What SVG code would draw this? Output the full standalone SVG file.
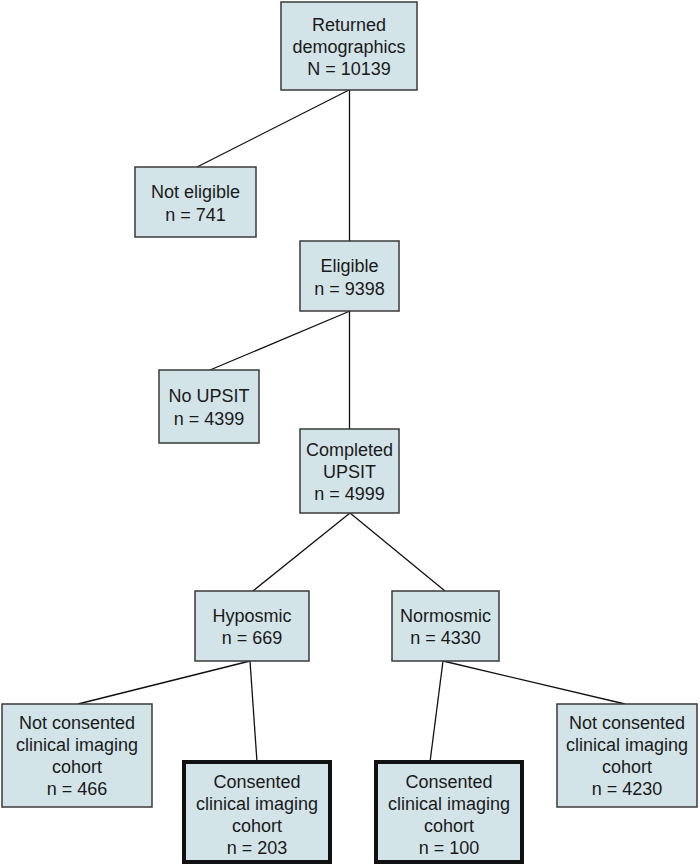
<svg xmlns="http://www.w3.org/2000/svg" width="700" height="867" viewBox="0 0 700 867">
<style>
.box{fill:#d3e4e8;stroke:#3a3a3a;stroke-width:1.5}
.thick{fill:#d3e4e8;stroke:#111;stroke-width:4}
.t{font-family:"Liberation Sans",Arial,sans-serif;font-size:18px;fill:#1a1a1a;text-anchor:middle}
.c{stroke:#111;stroke-width:1.3;fill:none}
</style>
<rect width="700" height="867" fill="#fff"/>
<g id="connectors">
<line class="c" x1="349" y1="90" x2="197" y2="167"/>
<line class="c" x1="349.5" y1="90" x2="349.5" y2="241"/>
<line class="c" x1="350" y1="311" x2="210" y2="370"/>
<line class="c" x1="349.5" y1="311" x2="349.5" y2="429"/>
<line class="c" x1="350" y1="513" x2="253" y2="591"/>
<line class="c" x1="350" y1="513" x2="445" y2="591"/>
<line class="c" x1="250" y1="661" x2="78" y2="704"/>
<line class="c" x1="250" y1="661" x2="257" y2="762"/>
<line class="c" x1="443" y1="661" x2="430" y2="762"/>
<line class="c" x1="443" y1="661" x2="625" y2="704"/>
</g>
<g id="n1"><rect class="box" x="281" y="2" width="136" height="88"/>
<text class="t"><tspan x="349" y="31">Returned</tspan><tspan x="349" y="53">demographics</tspan><tspan x="349" y="75">N = 10139</tspan></text></g>
<g id="n2"><rect class="box" x="135" y="167" width="121" height="70"/>
<text class="t"><tspan x="195.5" y="198">Not eligible</tspan><tspan x="195.5" y="221">n = 741</tspan></text></g>
<g id="n3"><rect class="box" x="300" y="241" width="99" height="70"/>
<text class="t"><tspan x="349.5" y="272">Eligible</tspan><tspan x="349.5" y="295">n = 9398</tspan></text></g>
<g id="n4"><rect class="box" x="159" y="370" width="100" height="73"/>
<text class="t"><tspan x="209" y="402">No UPSIT</tspan><tspan x="209" y="425">n = 4399</tspan></text></g>
<g id="n5"><rect class="box" x="300" y="429" width="99" height="84"/>
<text class="t"><tspan x="349.5" y="456">Completed</tspan><tspan x="349.5" y="478">UPSIT</tspan><tspan x="349.5" y="500">n = 4999</tspan></text></g>
<g id="n6"><rect class="box" x="195" y="591" width="114" height="70"/>
<text class="t"><tspan x="252" y="622">Hyposmic</tspan><tspan x="252" y="644">n = 669</tspan></text></g>
<g id="n7"><rect class="box" x="392" y="591" width="107" height="70"/>
<text class="t"><tspan x="445.5" y="622">Normosmic</tspan><tspan x="445.5" y="644">n = 4330</tspan></text></g>
<g id="n8"><rect class="box" x="2" y="704" width="150" height="103"/>
<text class="t"><tspan x="77" y="729">Not consented</tspan><tspan x="77" y="751">clinical imaging</tspan><tspan x="77" y="773">cohort</tspan><tspan x="77" y="795">n = 466</tspan></text></g>
<g id="n9"><rect class="thick" x="184" y="762" width="146" height="100"/>
<text class="t"><tspan x="257" y="788">Consented</tspan><tspan x="257" y="810">clinical imaging</tspan><tspan x="257" y="832">cohort</tspan><tspan x="257" y="854">n = 203</tspan></text></g>
<g id="n10"><rect class="thick" x="376" y="762" width="146" height="100"/>
<text class="t"><tspan x="449" y="788">Consented</tspan><tspan x="449" y="810">clinical imaging</tspan><tspan x="449" y="832">cohort</tspan><tspan x="449" y="854">n = 100</tspan></text></g>
<g id="n11"><rect class="box" x="557" y="704" width="140" height="103"/>
<text class="t"><tspan x="627" y="729">Not consented</tspan><tspan x="627" y="751">clinical imaging</tspan><tspan x="627" y="773">cohort</tspan><tspan x="627" y="795">n = 4230</tspan></text></g>
</svg>
